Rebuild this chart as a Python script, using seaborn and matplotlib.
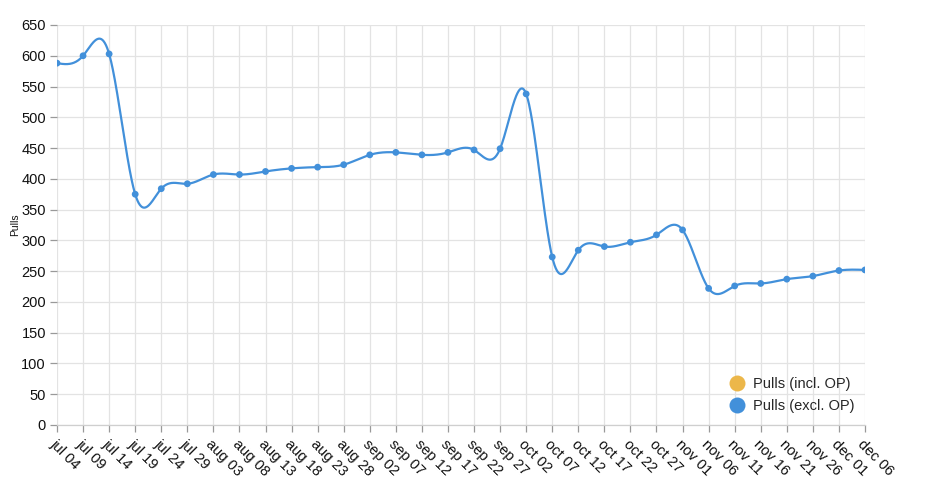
import numpy as np
import pandas as pd
import matplotlib
matplotlib.use("Agg")
import matplotlib.pyplot as plt
import seaborn as sns
from matplotlib.lines import Line2D

dates = pd.date_range("2023-07-04", periods=32, freq="5D")
tick_labels = [d.strftime("%b %d").lower() for d in dates]
pulls_excl_op = [588, 600, 603, 375, 384, 392, 407, 407, 412, 417, 419, 423,
                 439, 443, 439, 443, 447, 449, 538, 273, 284, 290, 297, 309,
                 317, 222, 226, 230, 237, 242, 251, 252]
series_names = ["Pulls (incl. OP)", "Pulls (excl. OP)"]
series_colors = ["#ecb74a", "#4290da"]
y_ticks = list(range(0, 651, 50))


def natural_spline(x, y, n=2000):
    x = np.asarray(x, float)
    y = np.asarray(y, float)
    k = len(x)
    h = np.diff(x)
    A = np.zeros((k, k))
    b = np.zeros(k)
    A[0, 0] = A[-1, -1] = 1
    for i in range(1, k - 1):
        A[i, i - 1] = h[i - 1]
        A[i, i] = 2 * (h[i - 1] + h[i])
        A[i, i + 1] = h[i]
        b[i] = 6 * ((y[i + 1] - y[i]) / h[i] - (y[i] - y[i - 1]) / h[i - 1])
    M = np.linalg.solve(A, b)
    xs = np.linspace(x[0], x[-1], n)
    idx = np.clip(np.searchsorted(x, xs) - 1, 0, k - 2)
    x0, x1 = x[idx], x[idx + 1]
    hh = x1 - x0
    t0, t1 = x1 - xs, xs - x0
    ys = (M[idx] * t0 ** 3 + M[idx + 1] * t1 ** 3) / (6 * hh) \
        + (y[idx] / hh - M[idx] * hh / 6) * t0 \
        + (y[idx + 1] / hh - M[idx + 1] * hh / 6) * t1
    return xs, ys


sns.set_theme(style="whitegrid")
plt.rcParams["font.family"] = ["Liberation Sans", "DejaVu Sans"]

fig = plt.figure(figsize=(9.27, 4.95), dpi=100)
ax = fig.add_axes([57 / 927, 1 - 425 / 495, (865 - 57) / 927, 400 / 495])

xnum = np.arange(len(dates), dtype=float)
xs, ys = natural_spline(xnum, pulls_excl_op)
curve = pd.DataFrame({"x": xs, "y": ys})
pts = pd.DataFrame({"x": xnum, "y": pulls_excl_op})

sns.lineplot(data=curve, x="x", y="y", ax=ax, color=series_colors[1],
             linewidth=1.6, zorder=3)
sns.scatterplot(data=pts, x="x", y="y", ax=ax, color=series_colors[1],
                s=24, edgecolor="none", zorder=4)

ax.set_xlim(xnum[0], xnum[-1])
ax.set_ylim(0, 650)
ax.set_yticks(y_ticks)
ax.set_yticklabels([str(v) for v in y_ticks], fontsize=10.5, color="#111111")
ax.set_xticks(xnum)
ax.set_xticklabels(tick_labels, rotation=-45, ha="left", va="top",
                   rotation_mode="anchor", fontsize=10.5, color="#111111")
ax.tick_params(axis="both", which="both", length=5, width=0.9,
               color="#999999", pad=3)
ax.tick_params(axis="y", left=True)
ax.tick_params(axis="x", bottom=True, pad=4)
ax.grid(True, color="#e3e3e3", linewidth=0.9)
ax.set_axisbelow(True)
for s in ["top", "right", "left"]:
    ax.spines[s].set_visible(False)
ax.spines["bottom"].set_color("#cfcfcf")
ax.spines["bottom"].set_linewidth(0.9)
ax.set_xlabel("")
ax.set_ylabel("Pulls", fontsize=7.5, color="#111111")
ax.yaxis.set_label_coords(-0.046, 0.5)

handles = [Line2D([], [], marker="o", linestyle="none", markersize=11.5,
                  markerfacecolor=c, markeredgecolor="none") for c in series_colors]
ax.legend(handles, series_names, loc="lower right", bbox_to_anchor=(1.0, 0.005),
          frameon=False, fontsize=10.5, handletextpad=0.5, labelspacing=0.55,
          handlelength=1.2, borderaxespad=0.3)

fig.savefig("out.png", dpi=100)
